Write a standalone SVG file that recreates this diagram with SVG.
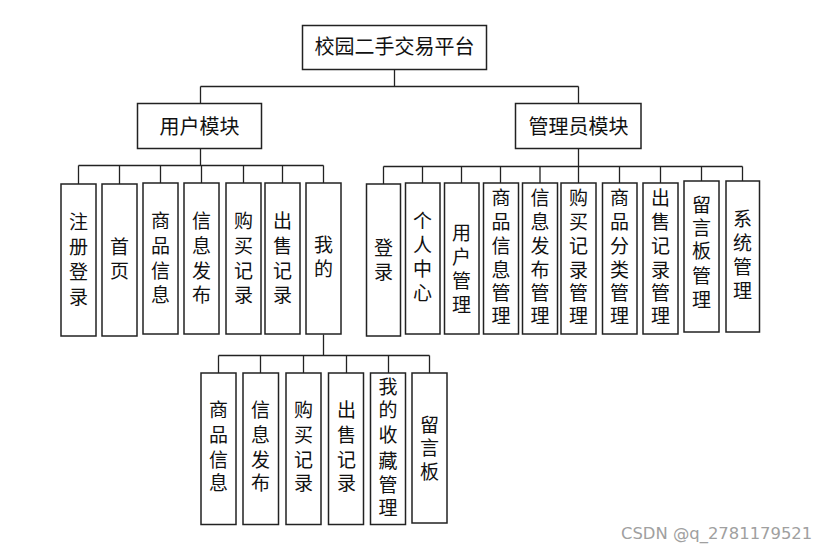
<svg xmlns="http://www.w3.org/2000/svg" width="824" height="551" viewBox="0 0 824 551">
<style>
rect{fill:#fff;stroke:#222;stroke-width:1.5}
#connectors path{fill:none;stroke:#222;stroke-width:1.3}
text{font-family:"Noto Sans CJK SC","Noto Sans",sans-serif;fill:#111;text-anchor:middle}
.h{font-size:20px}
.v{font-size:19px}
.wm{font-family:"DejaVu Sans",sans-serif;font-size:16.4px;fill:#a0a0a0;text-anchor:start}
</style>
<rect x="0" y="0" width="824" height="551" style="fill:#fff;stroke:none"/>
<g id="connectors">
<path d="M394.5 69.5V86.5M200.5 86.5H578.5M200.5 86.5V103.5M578.5 86.5V103.5"/>
<path d="M200.5 148.5V165.5M78.5 165.5H323.5M78.5 165.5V184M119.5 165.5V184M160.5 165.5V183M201.5 165.5V183M243.5 165.5V183M282.5 165.5V183M323.5 165.5V183"/>
<path d="M578.5 148.5V166.5M383.5 166.5H742.5M383.5 166.5V184M422.5 166.5V183M461.5 166.5V183M500.5 166.5V183M540 166.5V183M578.5 166.5V183M619.5 166.5V183M660.5 166.5V183M701.5 166.5V181M742.5 166.5V181"/>
<path d="M323.5 334.5V355.5M218.5 355.5H429.5M218.5 355.5V373M260.5 355.5V373M303.5 355.5V373M346.5 355.5V373M388.5 355.5V373M429.5 355.5V373"/>
</g>
<g id="root"><rect x="302.5" y="25.5" width="184" height="44"/><text class="h" x="394.5" y="54">校园二手交易平台</text></g>
<g id="user"><rect x="137.5" y="103.5" width="124" height="45"/><text class="h" x="199.5" y="134">用户模块</text></g>
<g id="admin"><rect x="515.5" y="103.5" width="125.5" height="45"/><text class="h" x="578.5" y="134">管理员模块</text></g>

<g id="u1"><rect x="61" y="184" width="35" height="152"/><text class="v" x="78.5"><tspan x="78.5" y="229">注</tspan><tspan x="78.5" y="254">册</tspan><tspan x="78.5" y="279">登</tspan><tspan x="78.5" y="304">录</tspan></text></g>
<g id="u2"><rect x="102" y="184" width="35" height="152"/><text class="v"><tspan x="119.5" y="254">首</tspan><tspan x="119.5" y="278">页</tspan></text></g>
<g id="u3"><rect x="143" y="183" width="35" height="151"/><text class="v"><tspan x="160.5" y="228">商</tspan><tspan x="160.5" y="253">品</tspan><tspan x="160.5" y="278">信</tspan><tspan x="160.5" y="302">息</tspan></text></g>
<g id="u4"><rect x="184" y="183" width="35" height="151"/><text class="v"><tspan x="201.5" y="228">信</tspan><tspan x="201.5" y="253">息</tspan><tspan x="201.5" y="278">发</tspan><tspan x="201.5" y="302">布</tspan></text></g>
<g id="u5"><rect x="226" y="183" width="35" height="151"/><text class="v"><tspan x="243.5" y="228">购</tspan><tspan x="243.5" y="253">买</tspan><tspan x="243.5" y="278">记</tspan><tspan x="243.5" y="302">录</tspan></text></g>
<g id="u6"><rect x="265" y="183" width="35" height="151"/><text class="v"><tspan x="282.5" y="228">出</tspan><tspan x="282.5" y="253">售</tspan><tspan x="282.5" y="278">记</tspan><tspan x="282.5" y="302">录</tspan></text></g>
<g id="u7"><rect x="306" y="183" width="35" height="151"/><text class="v"><tspan x="323.5" y="252">我</tspan><tspan x="323.5" y="276">的</tspan></text></g>

<g id="a1"><rect x="366.5" y="184" width="34" height="152"/><text class="v"><tspan x="383.5" y="255">登</tspan><tspan x="383.5" y="279">录</tspan></text></g>
<g id="a2"><rect x="405.5" y="183" width="34.5" height="151"/><text class="v"><tspan x="422.5" y="228">个</tspan><tspan x="422.5" y="252">人</tspan><tspan x="422.5" y="276">中</tspan><tspan x="422.5" y="300">心</tspan></text></g>
<g id="a3"><rect x="444.5" y="183" width="34.5" height="151"/><text class="v"><tspan x="461.5" y="240">用</tspan><tspan x="461.5" y="264">户</tspan><tspan x="461.5" y="288">管</tspan><tspan x="461.5" y="312">理</tspan></text></g>
<g id="a4"><rect x="483.5" y="183" width="35" height="151"/><text class="v"><tspan x="501" y="205">商</tspan><tspan x="501" y="229">品</tspan><tspan x="501" y="253">信</tspan><tspan x="501" y="277">息</tspan><tspan x="501" y="300">管</tspan><tspan x="501" y="323">理</tspan></text></g>
<g id="a5"><rect x="522.5" y="183" width="35" height="151"/><text class="v"><tspan x="540" y="205">信</tspan><tspan x="540" y="229">息</tspan><tspan x="540" y="253">发</tspan><tspan x="540" y="277">布</tspan><tspan x="540" y="300">管</tspan><tspan x="540" y="323">理</tspan></text></g>
<g id="a6"><rect x="561" y="183" width="35" height="151"/><text class="v"><tspan x="578.5" y="205">购</tspan><tspan x="578.5" y="229">买</tspan><tspan x="578.5" y="253">记</tspan><tspan x="578.5" y="277">录</tspan><tspan x="578.5" y="300">管</tspan><tspan x="578.5" y="323">理</tspan></text></g>
<g id="a7"><rect x="602.5" y="183" width="34.5" height="151"/><text class="v"><tspan x="619.5" y="205">商</tspan><tspan x="619.5" y="229">品</tspan><tspan x="619.5" y="253">分</tspan><tspan x="619.5" y="277">类</tspan><tspan x="619.5" y="300">管</tspan><tspan x="619.5" y="323">理</tspan></text></g>
<g id="a8"><rect x="643" y="183" width="35" height="151"/><text class="v"><tspan x="660.5" y="205">出</tspan><tspan x="660.5" y="229">售</tspan><tspan x="660.5" y="253">记</tspan><tspan x="660.5" y="277">录</tspan><tspan x="660.5" y="300">管</tspan><tspan x="660.5" y="323">理</tspan></text></g>
<g id="a9"><rect x="684" y="181" width="35" height="151"/><text class="v"><tspan x="701.5" y="212">留</tspan><tspan x="701.5" y="235">言</tspan><tspan x="701.5" y="258">板</tspan><tspan x="701.5" y="283">管</tspan><tspan x="701.5" y="307">理</tspan></text></g>
<g id="a10"><rect x="726" y="181" width="33.5" height="151"/><text class="v"><tspan x="742.5" y="226">系</tspan><tspan x="742.5" y="250">统</tspan><tspan x="742.5" y="274">管</tspan><tspan x="742.5" y="298">理</tspan></text></g>

<g id="m1"><rect x="201" y="373" width="35" height="151.5"/><text class="v"><tspan x="218.5" y="417">商</tspan><tspan x="218.5" y="442">品</tspan><tspan x="218.5" y="467">信</tspan><tspan x="218.5" y="490">息</tspan></text></g>
<g id="m2"><rect x="243" y="373" width="35.5" height="151.5"/><text class="v"><tspan x="260.5" y="417">信</tspan><tspan x="260.5" y="442">息</tspan><tspan x="260.5" y="467">发</tspan><tspan x="260.5" y="490">布</tspan></text></g>
<g id="m3"><rect x="286" y="373" width="35" height="151.5"/><text class="v"><tspan x="303.5" y="417">购</tspan><tspan x="303.5" y="442">买</tspan><tspan x="303.5" y="467">记</tspan><tspan x="303.5" y="490">录</tspan></text></g>
<g id="m4"><rect x="328.5" y="373" width="35" height="151.5"/><text class="v"><tspan x="346.5" y="417">出</tspan><tspan x="346.5" y="442">售</tspan><tspan x="346.5" y="467">记</tspan><tspan x="346.5" y="490">录</tspan></text></g>
<g id="m5"><rect x="370.5" y="373" width="35" height="151.5"/><text class="v"><tspan x="388" y="394">我</tspan><tspan x="388" y="417">的</tspan><tspan x="388" y="442">收</tspan><tspan x="388" y="468">藏</tspan><tspan x="388" y="492">管</tspan><tspan x="388" y="515">理</tspan></text></g>
<g id="m6"><rect x="412" y="373" width="35" height="150"/><text class="v"><tspan x="429.5" y="432">留</tspan><tspan x="429.5" y="455">言</tspan><tspan x="429.5" y="479">板</tspan></text></g>

<text class="wm" x="621" y="538.5">CSDN @q_2781179521</text>
</svg>
